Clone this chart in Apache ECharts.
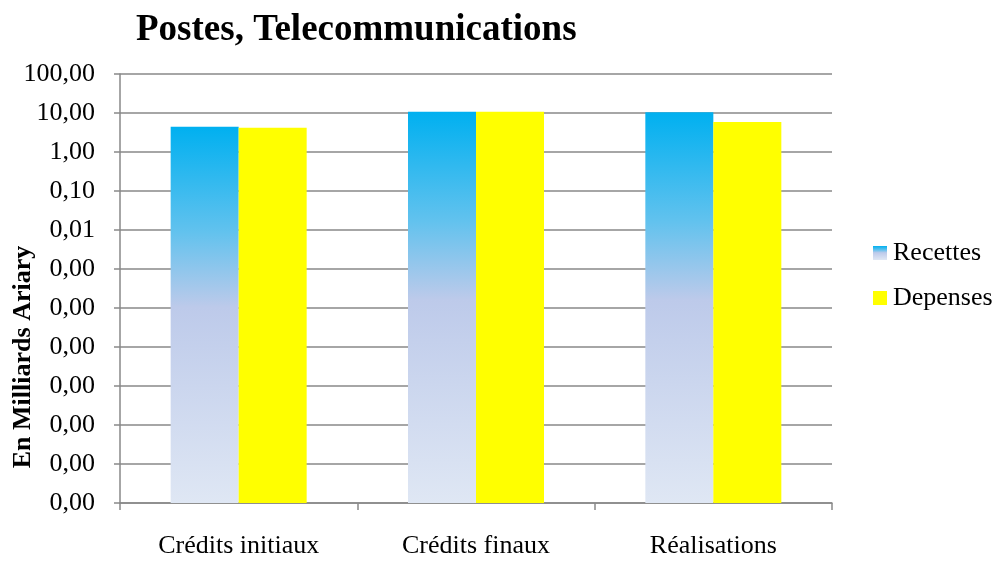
<!DOCTYPE html>
<html>
<head>
<meta charset="utf-8">
<script src="https://cdn.jsdelivr.net/npm/echarts@6/dist/echarts.min.js"></script>
<style>
  html, body { margin: 0; padding: 0; background: #fff; }
  #main { width: 999px; height: 563px; }
</style>
</head>
<body>
<div id="main"></div>
<script>
var categories = ['Crédits initiaux', 'Crédits finaux', 'Réalisations'];
var recettes = [4.45, 10.8, 10.4];
var depenses = [4.19, 10.8, 5.88];
// bottom of the log axis, bars are stacked on it so they start from the floor
var axisFloor = 1e-9;
var floorData = categories.map(function () { return axisFloor; });

var serif = 'Liberation Serif';
var gridColor = '#898989';

var myChart = echarts.init(document.getElementById('main'));

var blueGrad = new echarts.graphic.LinearGradient(0, 0, 0, 1, [
    {offset: 0, color: '#00B0F0'},
    {offset: 0.28, color: '#62C2EE'},
    {offset: 0.48, color: '#BDCAEA'},
    {offset: 1, color: '#DFE7F4'}
]);

var option = {
    animation: false,
    title: {
        text: 'Postes, Telecommunications',
        left: 131,
        top: 7,
        textStyle: {
            fontFamily: serif,
            fontSize: 37,
            fontWeight: 'bold',
            color: '#000'
        }
    },
    legend: {
        orient: 'vertical',
        left: 873,
        top: 240,
        padding: 0,
        itemWidth: 14,
        itemHeight: 14,
        itemGap: 19,
        icon: 'rect',
        data: ['Recettes', 'Depenses'],
        textStyle: {
            fontFamily: serif,
            fontSize: 26,
            color: '#000',
            padding: [0, 0, 0, 1]
        }
    },
    // axis title sits below the middle of the axis, so it is a plain text element
    graphic: [{
        type: 'text',
        x: 23,
        y: 357,
        rotation: Math.PI / 2,
        style: {
            text: 'En Milliards Ariary',
            font: 'bold 26px "Liberation Serif"',
            fill: '#000',
            textAlign: 'center',
            textVerticalAlign: 'middle'
        }
    }],
    grid: {
        left: 120,
        right: 167,
        top: 74,
        bottom: 60,
        outerBoundsMode: 'none'
    },
    xAxis: {
        type: 'category',
        data: categories,
        axisLine: {lineStyle: {color: gridColor, width: 1.5}},
        axisTick: {show: true, length: 7, lineStyle: {color: gridColor, width: 1.5}},
        axisLabel: {
            margin: 30,
            fontFamily: serif,
            fontSize: 26,
            color: '#000'
        }
    },
    yAxis: {
        type: 'log',
        logBase: 10,
        min: axisFloor,
        max: 100,
        interval: 1,
        axisLine: {show: true, lineStyle: {color: gridColor, width: 1.5}},
        axisTick: {show: true, length: 6, lineStyle: {color: gridColor, width: 1.5}},
        splitLine: {show: true, lineStyle: {color: gridColor, width: 1.5}},
        axisLabel: {
            margin: 25,
            fontFamily: serif,
            fontSize: 26,
            color: '#000',
            formatter: function (v) {
                return v.toFixed(2).replace('.', ',');
            }
        }
    },
    series: [
        {
            name: 'floorA',
            type: 'bar',
            stack: 'a',
            barWidth: 68,
            barGap: '0%',
            data: floorData,
            itemStyle: {color: 'rgba(0,0,0,0)'},
            silent: true
        },
        {
            name: 'Recettes',
            type: 'bar',
            stack: 'a',
            barWidth: 68,
            barGap: '0%',
            data: recettes,
            itemStyle: {color: blueGrad}
        },
        {
            name: 'floorB',
            type: 'bar',
            stack: 'b',
            barWidth: 68,
            barGap: '0%',
            data: floorData,
            itemStyle: {color: 'rgba(0,0,0,0)'},
            silent: true
        },
        {
            name: 'Depenses',
            type: 'bar',
            stack: 'b',
            barWidth: 68,
            barGap: '0%',
            data: depenses,
            itemStyle: {color: '#FFFF00'}
        }
    ]
};

myChart.setOption(option);
</script>
</body>
</html>
